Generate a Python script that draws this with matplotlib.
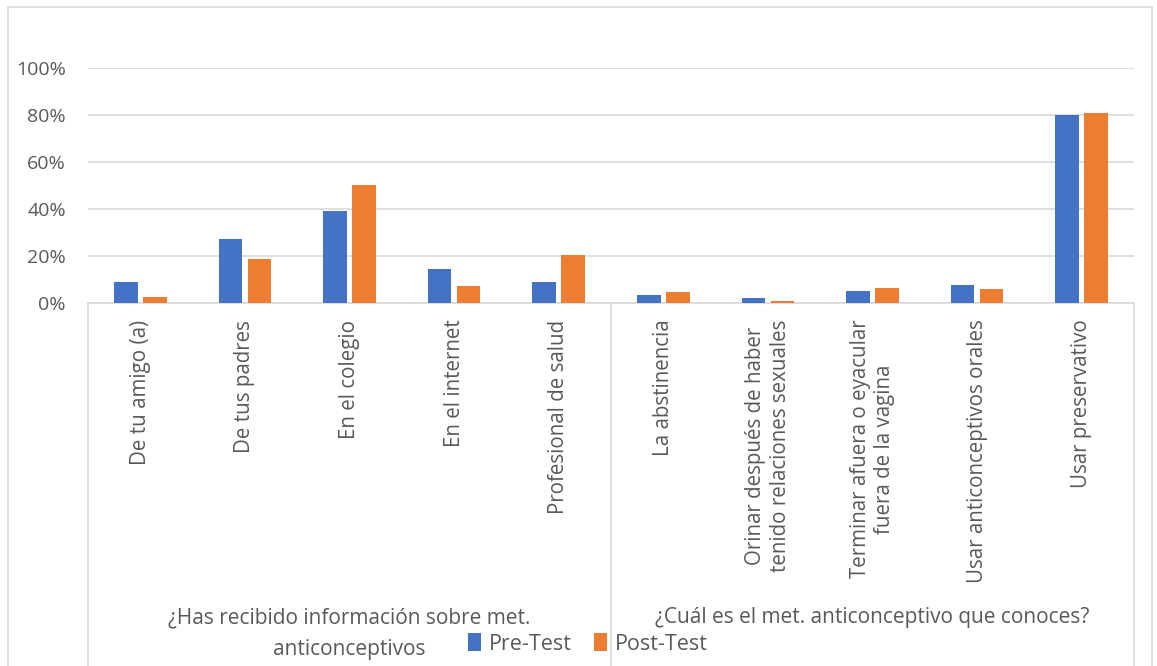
import numpy as np
import matplotlib.pyplot as plt
from matplotlib.patches import Rectangle

plt.rcParams['font.family'] = ['Open Sans', 'DejaVu Sans']

categorias = ['De tu amigo (a)', 'De tus padres', 'En el colegio', 'En el internet',
              'Profesional de salud', 'La abstinencia',
              'Orinar después de haber\ntenido relaciones sexuales',
              'Terminar afuera o eyacular\nfuera de la vagina',
              'Usar anticonceptivos orales', 'Usar preservativo']
pre_test = [0.09, 0.273, 0.392, 0.146, 0.09, 0.036, 0.023, 0.051, 0.078, 0.80]
post_test = [0.024, 0.186, 0.504, 0.074, 0.203, 0.047, 0.009, 0.065, 0.061, 0.807]
grupos = ['¿Has recibido información sobre met.\nanticonceptivos',
          '¿Cuál es el met. anticonceptivo que conoces?']
tamano_grupos = [5, 5]
yticks = [0, 0.2, 0.4, 0.6, 0.8, 1.0]

azul = '#4472C4'
naranja = '#ED7D31'
gris_txt = '#595959'
gris_lin = '#D9D9D9'

W, H = 1157, 666
fig = plt.figure(figsize=(W / 100, H / 100), dpi=100)
ax = fig.add_axes([88 / W, 1 - 303 / H, (1134 - 88) / W, (303 - 68) / H])

x = np.arange(len(categorias))
ancho = 0.225
ax.bar(x - 0.138, pre_test, ancho, color=azul, label='Pre-Test', zorder=3)
ax.bar(x + 0.138, post_test, ancho, color=naranja, label='Post-Test', zorder=3)

ax.set_xlim(-0.5, len(categorias) - 0.5)
ax.set_ylim(0, 1.0)
ax.set_yticks(yticks)
ax.set_yticklabels([f'{int(v * 100)}%' for v in yticks])
ax.yaxis.grid(True, color=gris_lin, linewidth=1.2, zorder=0)
ax.tick_params(axis='y', length=0, pad=16, labelsize=14, labelcolor=gris_txt)

ax.set_xticks(x)
ax.set_xticklabels(categorias, rotation=90, va='top', ha='center',
                   multialignment='center')
ax.tick_params(axis='x', length=0, pad=12, labelsize=14.8, labelcolor=gris_txt)

for lado in ['top', 'left', 'right']:
    ax.spines[lado].set_visible(False)
ax.spines['bottom'].set_color(gris_lin)
ax.spines['bottom'].set_linewidth(1.2)

# separadores de grupos y etiquetas de grupo
tr = ax.get_xaxis_transform()
alto = 303 - 68
fondo = -(H - 303) / alto
bordes = np.concatenate([[0], np.cumsum(tamano_grupos)]) - 0.5
for b in bordes:
    ax.plot([b, b], [0, fondo], color=gris_lin, lw=1.2, transform=tr, clip_on=False)

for i, g in enumerate(grupos):
    centro = (bordes[i] + bordes[i + 1]) / 2
    for j, linea in enumerate(g.split('\n')):
        y_px = 618 + 32 * j
        ax.text(centro, -(y_px - 303) / alto, linea, transform=tr,
                ha='center', va='center', fontsize=15, color=gris_txt)

# borde exterior del grafico
fig.patches.append(Rectangle((8 / W, -0.05), (1152 - 8) / W, 1.05 - 7 / H,
                             transform=fig.transFigure, fill=False,
                             edgecolor=gris_lin, linewidth=1.2))

fig.legend(loc='center', bbox_to_anchor=(588 / W, 1 - 644 / H), ncol=2,
           frameon=False, fontsize=15.5, labelcolor=gris_txt,
           handlelength=0.6, handleheight=0.9, handletextpad=0.4,
           columnspacing=1.0, borderaxespad=0)

fig.savefig('out.png', dpi=100)
